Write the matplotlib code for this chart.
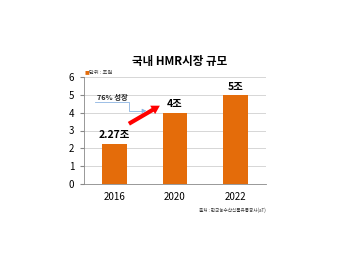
import matplotlib.pyplot as plt

plt.rcParams['font.family'] = ['Noto Sans CJK KR', 'DejaVu Sans']

years = ['2016', '2020', '2022']
values = [2.27, 4.0, 5.0]
labels = ['2.27조', '4조', '5조']
bar_color = '#E46C0A'

fig = plt.figure(figsize=(3.54, 2.66), dpi=100)
ax = fig.add_axes([84/354, 1-184/266, 182/354, 107/266])

x = range(len(years))
ax.bar(x, values, width=0.41, color=bar_color, zorder=2)
for i, (v, lab) in enumerate(zip(values, labels)):
    ax.text(i, v + 0.18, lab, ha='center', va='bottom', fontsize=7.5, fontweight='bold')

ax.set_xlim(-0.5, 2.5)
ax.set_ylim(0, 6)
ax.set_yticks(range(7))
ax.set_xticks(list(x))
ax.set_xticklabels(years)
ax.tick_params(axis='x', labelsize=7, length=0, pad=6)
ax.tick_params(axis='y', labelsize=7, length=3, color='#888888', pad=4)
ax.yaxis.grid(True, color='#d0d0d0', lw=0.6, zorder=0)
for s in ['top', 'right']:
    ax.spines[s].set_visible(False)
ax.spines['left'].set_color('#888888')
ax.spines['bottom'].set_color('#888888')
ax.spines['left'].set_linewidth(0.6)
ax.spines['bottom'].set_linewidth(0.6)

# growth arrow
ax.annotate('', xy=(0.79, 4.47), xytext=(0.20, 3.3),
            arrowprops=dict(arrowstyle='simple,head_width=0.7,head_length=0.6,tail_width=0.3',
                            color='#FF0000', lw=0))
ax.plot([-0.32, 0.24, 0.24, 0.45], [4.6, 4.6, 4.1, 4.1], color='#8DB4E2', lw=0.6, zorder=3)
ax.annotate('', xy=(0.53, 4.1), xytext=(0.44, 4.1),
            arrowprops=dict(arrowstyle='-|>,head_width=0.12,head_length=0.25', color='#8DB4E2', lw=0.6))
ax.text(-0.29, 4.68, '76% 성장', fontsize=5.3, fontweight='bold', ha='left', va='bottom', color='#222222')

fig.text(180/354, 1-61/266, '국내 HMR시장 규모', ha='center', va='center', fontsize=8.3, fontweight='bold')
fig.text(85/354, 1-73/266, '■', color=bar_color, fontsize=3.5, ha='left', va='center')
fig.text(89/354, 1-73/266, '단위 : 조원', fontsize=3.8, ha='left', va='center', color='#333333')
fig.text(199/354, 1-210/266, '출처 : 한국농수산식품유통공사(aT)', fontsize=3.3, ha='left', va='center', color='#333333')

fig.savefig('out.png', dpi=100)
